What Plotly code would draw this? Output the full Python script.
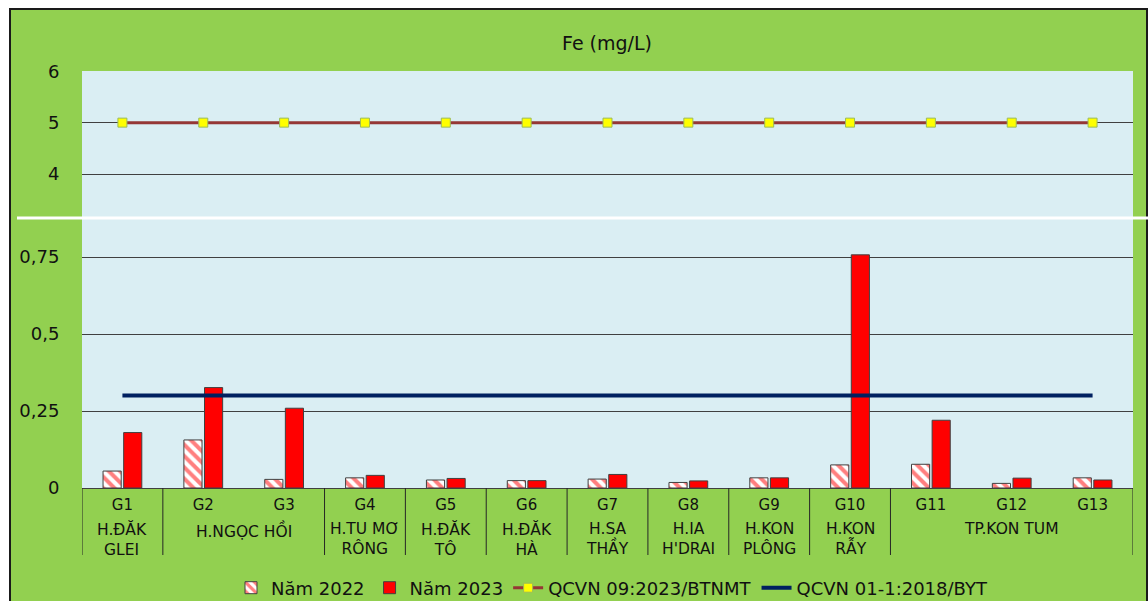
import plotly.graph_objects as go

# ---------------- data ----------------
sites = ["G1", "G2", "G3", "G4", "G5", "G6", "G7", "G8", "G9", "G10", "G11", "G12", "G13"]
fe_2022 = [0.055, 0.156, 0.028, 0.033, 0.026, 0.024, 0.029, 0.018, 0.033, 0.075, 0.077, 0.015, 0.033]
fe_2023 = [0.180, 0.326, 0.259, 0.041, 0.031, 0.024, 0.044, 0.023, 0.033, 0.757, 0.220, 0.032, 0.026]
qcvn_09 = [5] * 13
qcvn_01 = [0.3] * 13
# districts: (label, first site index, last site index)
districts = [
    ("H.ĐĂK<br>GLEI", 0, 0),
    ("H.NGỌC HỒI", 1, 2),
    ("H.TU MƠ<br>RÔNG", 3, 3),
    ("H.ĐĂK<br>TÔ", 4, 4),
    ("H.ĐĂK<br>HÀ", 5, 5),
    ("H.SA<br>THẦY", 6, 6),
    ("H.IA<br>H'DRAI", 7, 7),
    ("H.KON<br>PLÔNG", 8, 8),
    ("H.KON<br>RẪY", 9, 9),
    ("TP.KON TUM", 10, 12),
]
lower_ticks = [0, 0.25, 0.5, 0.75]
upper_ticks = [4, 5, 6]

# ---------------- layout geometry (pixels) ----------------
W, H = 1148, 601
L, R, T, B = 82, 15, 71, 113
pw, ph = W - L - R, H - T - B


def px_x(px):
    return (px - L) / pw


def px_y(py):
    return (H - B - py) / ph


BREAK = px_y(218)
FONT = "DejaVu Sans, Verdana, sans-serif"
GREEN = "#92D050"

fig = go.Figure()

fig.add_trace(go.Bar(
    x=sites, y=fe_2022, name="Năm 2022",
    marker=dict(color="white", line=dict(color="#404040", width=1),
                pattern=dict(shape="\\", fgcolor="#FF0000", bgcolor="white",
                             size=8, solidity=0.5, fillmode="overlay")),
    yaxis="y",
))
fig.add_trace(go.Bar(
    x=sites, y=fe_2023, name="Năm 2023",
    marker=dict(color="#FF0000", line=dict(color="#404040", width=1)),
    yaxis="y",
))
fig.add_trace(go.Scatter(
    x=sites, y=qcvn_09, name="QCVN 09:2023/BTNMT", mode="lines+markers",
    line=dict(color="#953735", width=3),
    marker=dict(symbol="square", size=9, color="#FFFF00",
                line=dict(color="#9BBB59", width=1)),
    yaxis="y2",
))
fig.add_trace(go.Scatter(
    x=sites, y=qcvn_01, name="QCVN 01-1:2018/BYT", mode="lines",
    line=dict(color="#002060", width=4),
    yaxis="y",
))

shapes = []
# white surround outside the green panel + black border
shapes.append(dict(type="rect", xref="paper", yref="paper",
                   x0=px_x(-5), x1=px_x(W + 5), y0=px_y(8), y1=px_y(-5),
                   fillcolor="white", line=dict(width=0)))
shapes.append(dict(type="rect", xref="paper", yref="paper",
                   x0=px_x(-5), x1=px_x(10), y0=px_y(H + 5), y1=px_y(-5),
                   fillcolor="white", line=dict(width=0)))
shapes.append(dict(type="rect", xref="paper", yref="paper",
                   x0=px_x(10), x1=px_x(1147), y0=px_y(H + 10), y1=px_y(9),
                   fillcolor="rgba(0,0,0,0)", line=dict(color="#1a1a1a", width=2)))
# white break line
shapes.append(dict(type="line", xref="paper", yref="paper",
                   x0=px_x(17), x1=px_x(W + 2), y0=BREAK, y1=BREAK,
                   line=dict(color="white", width=3)))
# district dividers
div_pos = [-0.5] + [last + 0.5 for (_, _, last) in districts]
for xp in div_pos:
    shapes.append(dict(type="line", xref="x", yref="paper",
                       x0=xp, x1=xp, y0=0, y1=px_y(555),
                       line=dict(color="#262626", width=1)))

annotations = []
for (label, first, last) in districts:
    annotations.append(dict(x=(first + last) / 2, xref="x", y=px_y(518), yref="paper",
                            text=label, showarrow=False, yanchor="top", xanchor="center",
                            font=dict(family=FONT, size=15.5, color="#111111")))

fig.update_layout(
    width=W, height=H,
    margin=dict(l=L, r=R, t=T, b=B, pad=0),
    paper_bgcolor=GREEN,
    plot_bgcolor="#DAEEF3",
    separators=", ",
    font=dict(family=FONT, size=15, color="black"),
    title=dict(text="Fe (mg/L)", x=607 / W, xref="container", xanchor="center",
               y=1 - 43 / H, yref="container", yanchor="middle",
               font=dict(family=FONT, size=19, color="#111111")),
    barmode="group", bargap=0.49, bargroupgap=0.12,
    showlegend=True,
    legend=dict(orientation="h", x=612 / W, xref="container", xanchor="center",
                y=1 - 588 / H, yref="container", yanchor="middle",
                bgcolor="rgba(0,0,0,0)",
                font=dict(family=FONT, size=18, color="#111111"),
                itemwidth=30, tracegroupgap=0),
    xaxis=dict(type="category", showgrid=False, showline=True, linecolor="#404040",
               linewidth=1, ticks="outside", ticklen=3, tickcolor="rgba(0,0,0,0)",
               tickfont=dict(family=FONT, size=15, color="#111111"),
               anchor="y", range=[-0.5, 12.5], fixedrange=True),
    yaxis=dict(domain=[0, BREAK], range=[0, (488 - 218) / 308.0],
               tickvals=lower_ticks, showgrid=True, gridcolor="#404040", gridwidth=1,
               zeroline=False, showline=False, ticks="outside", ticklen=18,
               tickcolor="rgba(0,0,0,0)",
               tickfont=dict(family=FONT, size=18, color="#111111"), anchor="x"),
    yaxis2=dict(domain=[BREAK, 1], range=[6 - (218 - 71) / 51.5, 6.004],
                tickvals=upper_ticks, showgrid=True, gridcolor="#404040", gridwidth=1,
                zeroline=False, showline=False, ticks="outside", ticklen=18,
                tickcolor="rgba(0,0,0,0)",
                tickfont=dict(family=FONT, size=18, color="#111111"), anchor="x"),
    shapes=shapes,
    annotations=annotations,
)

fig.write_html("out.html")
